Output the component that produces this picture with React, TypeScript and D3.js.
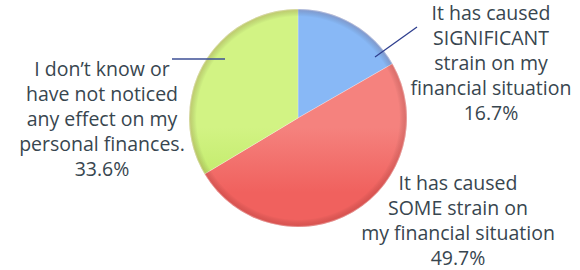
import React from 'react';
import * as d3 from 'd3';

const categories = [
  'It has caused SIGNIFICANT strain on my financial situation',
  'It has caused SOME strain on my financial situation',
  "I don’t know or have not noticed any effect on my personal finances.",
];
const values = [16.7, 49.7, 33.6];
const labelLines = [
  ['It has caused', 'SIGNIFICANT', 'strain on my', 'financial situation', '16.7%'],
  ['It has caused', 'SOME strain on', 'my financial situation', '49.7%'],
  ['I don’t know or', 'have not noticed', 'any effect on my', 'personal finances.', '33.6%'],
];
const sliceColors = [
  { light: '#88b8f6', base: '#5893e8', dark: '#4a84d8' },
  { light: '#f5827e', base: '#f0615e', dark: '#e04c4c' },
  { light: '#d2f384', base: '#bfe966', dark: '#a9d656' },
];

const W = 580;
const H = 270;
const cx = 298;
const cy = 118;
const R = 109;

// label anchor (centre x, first baseline) per slice
const labelPos = [
  { x: 491, y: 20 },
  { x: 458, y: 190 },
  { x: 102, y: 76 },
];
const LINE_H = 25;

export default function App() {
  const pie = d3.pie<number>().sort(null).startAngle(0).endAngle(2 * Math.PI);
  const arcs = pie(values);
  const arc = d3.arc<d3.PieArcDatum<number>>().innerRadius(0).outerRadius(R);

  return (
    <svg width={W} height={H} style={{ position: 'absolute', left: 0, top: 0, background: '#fff' }}
      fontFamily="'Open Sans', 'Noto Sans', sans-serif">
      <defs>
        {sliceColors.map((c, i) => (
          <linearGradient key={i} id={`g${i}`} gradientUnits="userSpaceOnUse" x1={0} y1={cy - R} x2={0} y2={cy + R}>
            <stop offset="0" stopColor={c.light} />
            <stop offset="0.3" stopColor={c.base} />
            <stop offset="0.8" stopColor={c.base} />
            <stop offset="1" stopColor={c.dark} />
          </linearGradient>
        ))}
        <radialGradient id="rim" gradientUnits="userSpaceOnUse" cx={cx} cy={cy} r={R}>
          <stop offset="0.93" stopColor="#000" stopOpacity="0" />
          <stop offset="1" stopColor="#7a1010" stopOpacity="0.2" />
        </radialGradient>
      </defs>
      <g transform={`translate(${cx},${cy})`}>
        {arcs.map((a, i) => (
          <path key={categories[i]} d={arc(a) ?? ''} fill={`url(#g${i})`}
            stroke="#ffffff" strokeOpacity={0.3} strokeWidth={0.8} />
        ))}
      </g>
      <circle cx={cx} cy={cy} r={R} fill="url(#rim)" />
      <circle cx={cx} cy={cy} r={R - 0.5} fill="none" stroke="#ffffff" strokeOpacity={0.25} strokeWidth={1} />

      {/* leader lines */}
      <line x1={172} y1={59} x2={225} y2={59} stroke="#3d4f96" strokeWidth={1.3} />
      <line x1={375} y1={57} x2={417} y2={27} stroke="#2f3f8f" strokeWidth={1.3} />

      {labelLines.map((lines, i) => (
        <text key={i} textAnchor="middle" fill="#38464f" fontSize={19.5}>
          {lines.map((l, j) => (
            <tspan key={j} x={labelPos[i].x} y={labelPos[i].y + j * LINE_H}>{l}</tspan>
          ))}
        </text>
      ))}
    </svg>
  );
}
